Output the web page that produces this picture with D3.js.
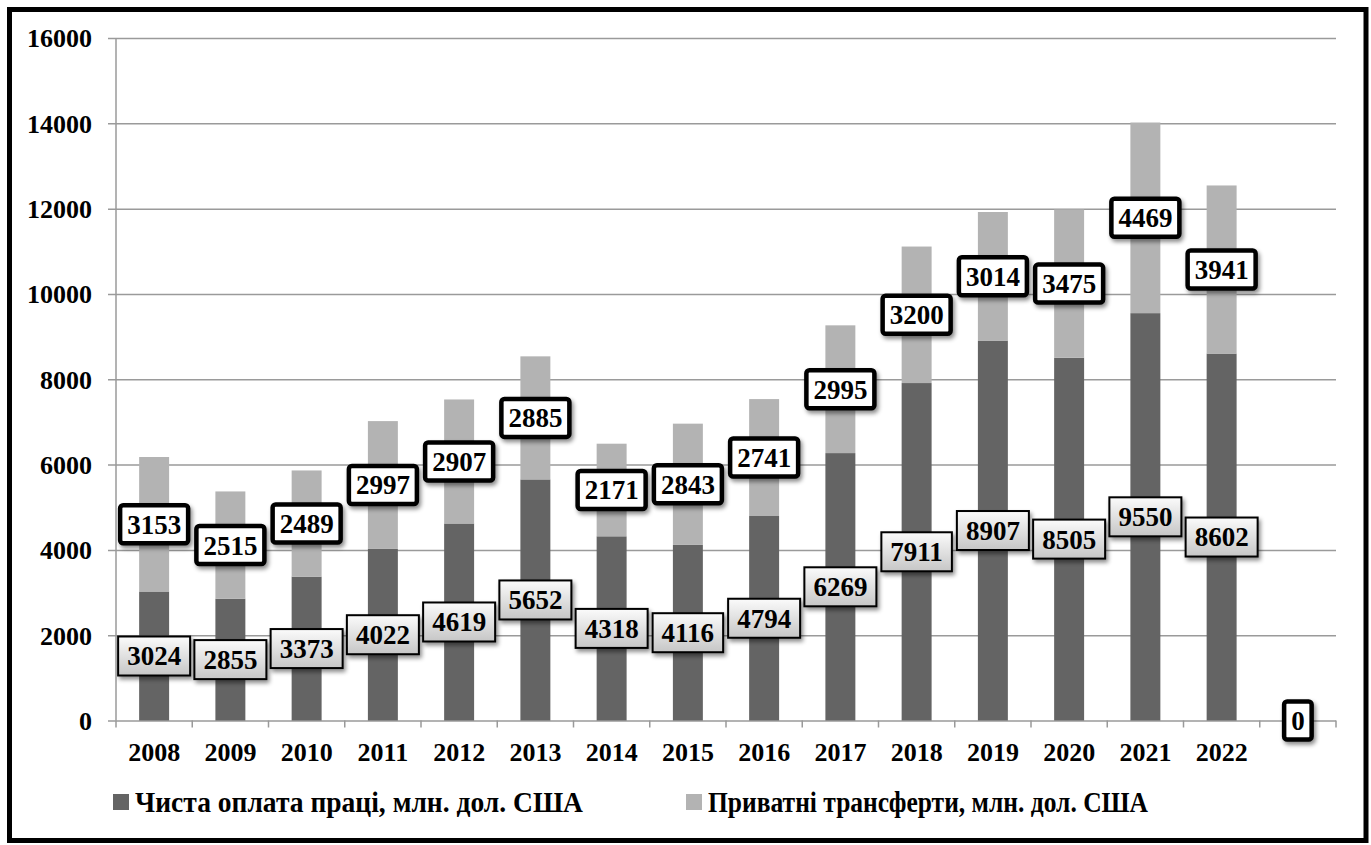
<!DOCTYPE html>
<html>
<head>
<meta charset="utf-8">
<script src="https://cdn.jsdelivr.net/npm/d3@7"></script>
</head>
<body style="margin:0; background:#fff">
<div class="chart"></div>
<script>
// categories (last slot is empty in the source chart, only a "0" label sits there)
var years = ["2008", "2009", "2010", "2011", "2012", "2013", "2014", "2015",
             "2016", "2017", "2018", "2019", "2020", "2021", "2022", ""];
// Чиста оплата праці, млн. дол. США
var wages = [3024, 2855, 3373, 4022, 4619, 5652, 4318, 4116,
             4794, 6269, 7911, 8907, 8505, 9550, 8602, null];
// Приватні трансферти, млн. дол. США
var transfers = [3153, 2515, 2489, 2997, 2907, 2885, 2171, 2843,
                 2741, 2995, 3200, 3014, 3475, 4469, 3941, 0];
var yTicks = [0, 2000, 4000, 6000, 8000, 10000, 12000, 14000, 16000];
var seriesNames = ["Чиста оплата праці, млн. дол. США", "Приватні трансферти, млн. дол. США"];

var FONT = "Liberation Serif";

var svgWidth = 1371;
var svgHeight = 845;
var margin = { top: 38, right: 35, bottom: 124.5, left: 116 };
var width = svgWidth - margin.left - margin.right;
var height = svgHeight - margin.top - margin.bottom;

var darkColor = "#646464";
var lightColor = "#b3b3b3";

var svg = d3.select(".chart")
  .append("svg")
  .attr("width", svgWidth)
  .attr("height", svgHeight);

var defs = svg.append("defs");
var shadow = defs.append("filter").attr("id", "shadow")
  .attr("x", "-20%").attr("y", "-20%").attr("width", "150%").attr("height", "160%");
shadow.append("feDropShadow")
  .attr("dx", 2).attr("dy", 3).attr("stdDeviation", 2)
  .attr("flood-color", "#000").attr("flood-opacity", 0.45);

var grad = defs.append("linearGradient").attr("id", "boxGrad")
  .attr("x1", 0).attr("y1", 0).attr("x2", 0).attr("y2", 1);
grad.append("stop").attr("offset", "0%").attr("stop-color", "#fbfbfb");
grad.append("stop").attr("offset", "100%").attr("stop-color", "#c6c6c6");

// outer frame
svg.append("rect")
  .attr("x", 9.5).attr("y", 9.5)
  .attr("width", svgWidth - 14.5).attr("height", svgHeight - 14)
  .attr("fill", "none")
  .attr("stroke", "#000")
  .attr("stroke-width", 5);

var chart = svg.append("g")
  .attr("transform", "translate(" + margin.left + "," + margin.top + ")");

var xScale = d3.scaleBand()
  .domain(d3.range(years.length))
  .range([0, width])
  .paddingInner(0.607)
  .paddingOuter(0.3035);

var yScale = d3.scaleLinear()
  .domain([0, 16000])
  .range([height, 0]);

// gridlines + y ticks
var leftAxis = d3.axisLeft(yScale)
  .tickValues(yTicks)
  .tickSize(-width)
  .tickSizeOuter(0)
  .tickPadding(24)
  .tickFormat(d3.format("d"));

var yAxisG = chart.append("g").call(leftAxis);
yAxisG.select(".domain").remove();
yAxisG.selectAll(".tick line")
  .attr("x1", -8)
  .attr("stroke", "#9a9a9a")
  .attr("stroke-width", 1.5);
yAxisG.selectAll(".tick text")
  .attr("font-family", FONT)
  .attr("font-weight", "bold")
  .attr("font-size", "26px")
  .attr("fill", "#000")
  .attr("dy", "0.34em");

// vertical axis line
chart.append("line")
  .attr("x1", 0).attr("x2", 0)
  .attr("y1", 0).attr("y2", height)
  .attr("stroke", "#9a9a9a").attr("stroke-width", 1.5);

// x axis ticks at category boundaries
var step = xScale.step();
var xAxisG = chart.append("g");
xAxisG.selectAll("line.xt")
  .data(d3.range(years.length + 1))
  .enter().append("line")
  .attr("class", "xt")
  .attr("x1", function(i) { return i * step; })
  .attr("x2", function(i) { return i * step; })
  .attr("y1", height)
  .attr("y2", height + 7)
  .attr("stroke", "#9a9a9a").attr("stroke-width", 1.5);

xAxisG.selectAll("text")
  .data(years)
  .enter().append("text")
  .attr("x", function(d, i) { return xScale(i) + xScale.bandwidth() / 2; })
  .attr("y", height + 32)
  .attr("dy", "0.34em")
  .attr("text-anchor", "middle")
  .attr("font-family", FONT)
  .attr("font-weight", "bold")
  .attr("font-size", "26px")
  .text(function(d) { return d; });

// stacked bars
var rows = years.map(function(y, i) {
  return { i: i, wages: wages[i] || 0, transfers: transfers[i] || 0 };
});
var stack = d3.stack().keys(["wages", "transfers"]);
var stacked = stack(rows);
var colors = [darkColor, lightColor];

stacked.forEach(function(layer, k) {
  chart.append("g")
    .selectAll("rect")
    .data(layer)
    .enter().append("rect")
    .attr("x", function(d) { return xScale(d.data.i); })
    .attr("width", xScale.bandwidth())
    .attr("y", function(d) { return yScale(d[1]); })
    .attr("height", function(d) { return yScale(d[0]) - yScale(d[1]); })
    .attr("fill", colors[k]);
});

// data labels
function addLabel(cx, cy, value, kind) {
  var g = chart.append("g");
  var rect = g.append("rect");
  var t = g.append("text")
    .attr("x", cx)
    .attr("y", cy)
    .attr("dy", "0.35em")
    .attr("text-anchor", "middle")
    .attr("font-family", FONT)
    .attr("font-weight", "bold")
    .attr("font-size", "27px")
    .attr("fill", "#000")
    .text(value);
  var tw = t.node().getComputedTextLength();
  if (kind === "dark") {
    var w = tw + 18, h = 39;
    rect.attr("x", cx - w / 2).attr("y", cy - h / 2)
      .attr("width", w).attr("height", h)
      .attr("fill", "url(#boxGrad)")
      .attr("stroke", "#000").attr("stroke-width", 2)
      .attr("filter", "url(#shadow)");
  } else {
    var w2 = tw + 14, h2 = 38;
    rect.attr("x", cx - w2 / 2).attr("y", cy - h2 / 2)
      .attr("width", w2).attr("height", h2)
      .attr("rx", 3).attr("ry", 3)
      .attr("fill", "#fff")
      .attr("stroke", "#000").attr("stroke-width", 4.5)
      .attr("filter", "url(#shadow)");
  }
}

stacked[0].forEach(function(d, i) {
  if (wages[i] == null) return;
  addLabel(xScale(i) + xScale.bandwidth() / 2, yScale((d[0] + d[1]) / 2), wages[i], "dark");
});
stacked[1].forEach(function(d, i) {
  if (transfers[i] == null) return;
  addLabel(xScale(i) + xScale.bandwidth() / 2, yScale((d[0] + d[1]) / 2), transfers[i], "light");
});

// legend
var legend = svg.append("g");
var legendY = 802;
var legendX = [113, 686];
var legendTextW = [448, 440];
seriesNames.forEach(function(name, k) {
  legend.append("rect")
    .attr("x", legendX[k]).attr("y", legendY - 8)
    .attr("width", 16).attr("height", 16)
    .attr("fill", colors[k]);
  legend.append("text")
    .attr("x", legendX[k] + 22)
    .attr("y", legendY)
    .attr("dy", "0.35em")
    .attr("font-family", FONT)
    .attr("font-weight", "bold")
    .attr("font-size", "29px")
    .attr("textLength", legendTextW[k])
    .attr("lengthAdjust", "spacingAndGlyphs")
    .text(name);
});
</script>
</body>
</html>
